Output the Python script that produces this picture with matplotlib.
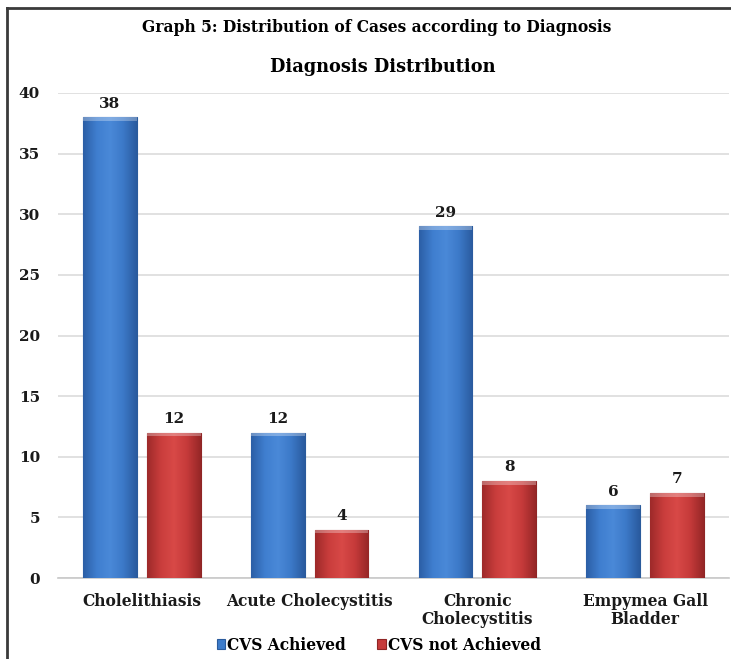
import numpy as np
import matplotlib
matplotlib.use("Agg")
import matplotlib.pyplot as plt
from matplotlib.patches import Rectangle
from matplotlib.colors import LinearSegmentedColormap

categories = ["Cholelithiasis", "Acute Cholecystitis", "Chronic\nCholecystitis", "Empymea Gall\nBladder"]
series_names = ["CVS Achieved", "CVS not Achieved"]
cvs_achieved = [38, 12, 29, 6]
cvs_not_achieved = [12, 4, 8, 7]
y_ticks = [0, 5, 10, 15, 20, 25, 30, 35, 40]

plt.rcParams["font.family"] = ["DejaVu Serif"]
plt.rcParams["font.weight"] = "bold"

W, H = 731, 659
fig = plt.figure(figsize=(W / 100, H / 100), dpi=100)
ax = fig.add_axes([58 / W, 1 - 578 / H, (729 - 58) / W, (578 - 93) / H])

x = np.arange(len(categories))
w = 0.32
off = 0.19
colors = ["#3d7ccb", "#c63b3b"]
edge = ["#2a5b9c", "#8f2525"]
grads = [
    LinearSegmentedColormap.from_list("b", ["#2c5fa6", "#3f7ecf", "#4a89d8", "#3c79c8", "#2a5b9f"]),
    LinearSegmentedColormap.from_list("r", ["#9e2a2a", "#c93d3c", "#d84947", "#c53a3a", "#962727"]),
]

for i, vals in enumerate([cvs_achieved, cvs_not_achieved]):
    offs = -off if i == 0 else off
    bars = ax.bar(x + offs, vals, w, color=colors[i], edgecolor=edge[i],
                  linewidth=0.8, label=series_names[i], zorder=3)
    for b, v in zip(bars, vals):
        x0, wd, h = b.get_x(), b.get_width(), b.get_height()
        grad = np.linspace(0, 1, 64).reshape(1, -1)
        im = ax.imshow(grad, cmap=grads[i], aspect="auto",
                       extent=[x0, x0 + wd, 0, h], zorder=3.5)
        im.set_clip_path(b)
        ax.add_patch(Rectangle((x0, h - 0.3), wd, 0.3, facecolor="white",
                               alpha=0.3, edgecolor="none", zorder=3.6))
        ax.text(b.get_x() + wd / 2, h + 0.55, f"{v}", ha="center", va="bottom",
                fontsize=11, fontweight="bold", color="#1a1a1a", zorder=5)

ax.set_xlim(-0.5, len(categories) - 0.5)
ax.set_ylim(0, 40)
ax.set_yticks(y_ticks)
ax.set_yticklabels([str(t) for t in y_ticks], fontsize=11, fontweight="bold")
ax.set_xticks(x)
ax.set_xticklabels(categories, fontsize=11.2, fontweight="bold", linespacing=1.05)
ax.tick_params(axis="both", length=0, colors="#1a1a1a")
ax.tick_params(axis="y", pad=13)
ax.tick_params(axis="x", pad=11)
ax.grid(axis="y", color="#dcdcdc", linewidth=1.2, zorder=0)
for s in ["top", "right", "left"]:
    ax.spines[s].set_visible(False)
ax.spines["bottom"].set_color("#c8c8c8")
ax.spines["bottom"].set_linewidth(1.2)

fig.text(383 / W, 1 - 67 / H, "Diagnosis Distribution", ha="center", va="center",
         fontsize=12.8, fontweight="bold")
fig.text(377 / W, 1 - 27 / H, "Graph 5: Distribution of Cases according to Diagnosis",
         ha="center", va="center", fontsize=11.2, fontweight="bold")

leg = fig.legend(loc="center", bbox_to_anchor=(379 / W, 1 - 645 / H), ncol=2, frameon=False,
                 fontsize=11.2, handlelength=0.55, handleheight=0.55,
                 handletextpad=0.15, columnspacing=2.0, borderpad=0)

# page frame (left and top edges)
fig.add_artist(plt.Line2D([7 / W, 7 / W], [0, 1 - 8 / H], transform=fig.transFigure,
                          color="#3a3a3a", linewidth=2.0))
fig.add_artist(plt.Line2D([7 / W, 1], [1 - 8 / H, 1 - 8 / H],
                          transform=fig.transFigure, color="#3a3a3a", linewidth=2.0))

fig.savefig("out.png", dpi=100)
